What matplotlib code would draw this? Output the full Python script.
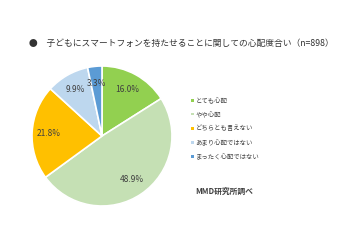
import matplotlib
matplotlib.use("Agg")
import matplotlib.pyplot as plt
from matplotlib.patches import Rectangle

plt.rcParams['font.family'] = ['Noto Sans CJK JP', 'DejaVu Sans']

categories = ["とても心配", "やや心配", "どちらとも言えない", "あまり心配ではない", "まったく心配ではない"]
values = [16.0, 48.9, 21.8, 9.9, 3.3]
colors = ["#92D050", "#C5E0B4", "#FFC000", "#BDD7EE", "#5B9BD5"]
title = "●　子どもにスマートフォンを持たせることに関しての心配度合い（n=898）"
source = "MMD研究所調べ"

W, H = 360, 240
fig = plt.figure(figsize=(W / 100, H / 100), dpi=100)
fig.patch.set_facecolor("white")

# pie axes: centre (102, 136) px, radius 70 px
cx, cy, r = 102, 136, 70
ax = fig.add_axes([(cx - r) / W, (H - cy - r) / H, 2 * r / W, 2 * r / H])
wedges, texts, autotexts = ax.pie(
    values, colors=colors, startangle=90, counterclock=False,
    autopct=lambda p: f"{p:.1f}%", pctdistance=0.76,
    wedgeprops=dict(edgecolor="white", linewidth=1.2),
    textprops=dict(fontsize=6, color="#404040"),
)
ax.set_xlim(-1, 1)
ax.set_ylim(-1, 1)
ax.set_aspect("equal")

fig.text(29 / W, 1 - 43 / H, title, fontsize=6.3, color="#333333", va="center", ha="left")

# legend
leg_y = [100, 114, 128, 142, 156]
for cat, col, y in zip(categories, colors, leg_y):
    fig.patches.append(Rectangle((191 / W, 1 - (y + 1.5) / H), 3 / W, 3 / H,
                                 transform=fig.transFigure, facecolor=col, edgecolor="none"))
    fig.text(195.5 / W, 1 - y / H, cat, fontsize=4.6, color="#404040", va="center", ha="left")

fig.text(195 / W, 1 - 191 / H, source, fontsize=5.6, color="#404040", va="center",
         ha="left", fontweight="bold")

fig.savefig("out.png", dpi=100, facecolor="white")
